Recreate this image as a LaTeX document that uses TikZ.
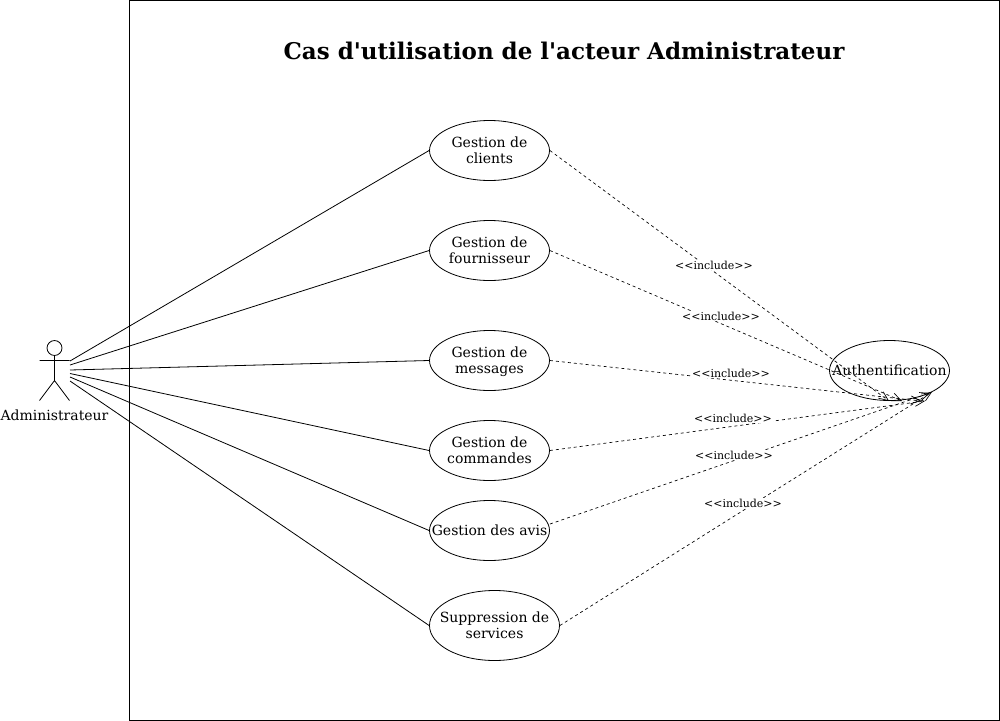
\documentclass[tikz,border=0pt]{standalone}
\usepackage{fontspec}
\setmainfont{DejaVu Serif}[Ligatures=TeXOff]
\usetikzlibrary{arrows.meta}
\usetikzlibrary{shapes.geometric}
\tikzset{
    usecase/.style={ellipse, draw=black, inner xsep=-15pt, inner ysep=-5pt, align=center, font=\fontsize{10.5}{12}\selectfont},
    include/.style={dash pattern=on 2.25pt off 2.25pt, line width=0.5pt, -{Straight Barb[length=7pt,width=6pt,line width=0.5pt]}},
    includelabel/.style={fill=white, inner sep=0.5pt, font=\fontsize{8.25}{10}\selectfont},
}
\begin{document}
\begin{tikzpicture}[x=0.75pt, y=-0.75pt, line width=0.6pt]
    \useasboundingbox (0, 0) rectangle (1000, 721);
    \draw (129.5, 0.5) rectangle (999.5, 720.5);
    \node[font=\fontsize{17.25}{20}\selectfont\bfseries] (title) at (564, 51) {Cas d'utilisation de l'acteur Administrateur};

    % actor
    \draw (54.5, 348) circle (5.6pt);
    \node[font=\fontsize{10.5}{12}\selectfont] (admin) at (54.5, 415) {Administrateur};
    \coordinate (head) at (54.5, 355.5);
    \coordinate (hip) at (54.5, 380.5);
    \coordinate (handL) at (39.5, 360.5);
    \coordinate (handR) at (69.5, 360.5);
    \coordinate (footL) at (39.5, 400.5);
    \coordinate (footR) at (69.5, 400.5);
    \draw (head) -- (hip) (handL) -- (handR) (footL) -- (hip) -- (footR);

    % use cases
    \node[usecase, minimum width=90pt, minimum height=45pt] (clients) at (489.5, 150.5) {Gestion de\\clients};
    \node[usecase, minimum width=90pt, minimum height=45pt] (fournisseur) at (489.5, 250.5) {Gestion de\\fournisseur};
    \node[usecase, minimum width=90pt, minimum height=45pt] (messages) at (489.5, 360.5) {Gestion de\\\smash{messages}};
    \node[usecase, minimum width=90pt, minimum height=45pt] (commandes) at (489.5, 450.5) {Gestion de\\commandes};
    \node[usecase, minimum width=90pt, minimum height=45pt] (avis) at (489.5, 530.5) {Gestion des avis};
    \node[usecase, minimum width=97.5pt, minimum height=52.5pt] (suppression) at (494.5, 625.5) {Suppression de\\services};
    \node[usecase, minimum width=90pt, minimum height=45pt] (auth) at (889.5, 370.5) {Authentification};

    % actor links
    \foreach \uc/\y in {clients/361, fournisseur/365, messages/370, commandes/373.5, avis/377, suppression/381}
    {
        \coordinate (from-\uc) at (70, \y);
        \draw (from-\uc) -- (\uc.west);
    }

    % includes
    \coordinate (to-clients) at (889, 401);
    \coordinate (to-fournisseur) at (902, 401);
    \coordinate (to-messages) at (921, 401);
    \coordinate (to-commandes) at (925, 401);
    \coordinate (to-avis) at (930, 393);
    \coordinate (to-suppression) at (932, 392);
    \coordinate (avis-out) at (550, 524);
    \draw[include] (clients.east) -- (to-clients);
    \draw[include] (fournisseur.east) -- (to-fournisseur);
    \draw[include] (messages.east) -- (to-messages);
    \draw[include] (commandes.east) -- (to-commandes);
    \draw[include] (avis-out) -- (to-avis);
    \draw[include] (suppression.east) -- (to-suppression);
    \node[includelabel] (inc1) at (714, 265) {<<include>>};
    \node[includelabel] (inc2) at (721, 316) {<<include>>};
    \node[includelabel] (inc3) at (731, 373) {<<include>>};
    \node[includelabel] (inc4) at (733, 418) {<<include>>};
    \node[includelabel] (inc5) at (734, 455) {<<include>>};
    \node[includelabel] (inc6) at (743, 503) {<<include>>};
\end{tikzpicture}
\end{document}
